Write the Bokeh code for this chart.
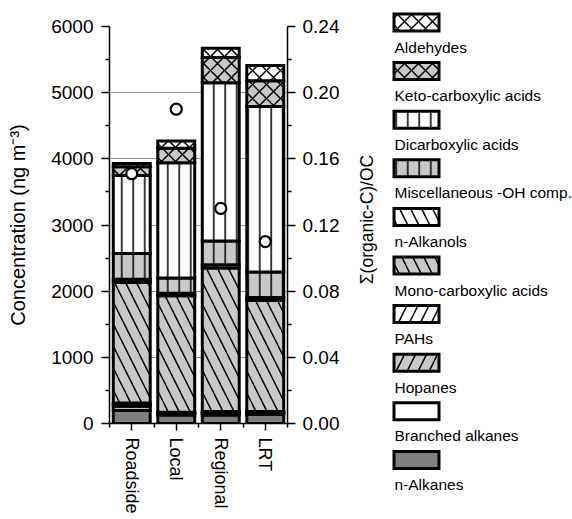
import numpy as np
from bokeh.plotting import figure
from bokeh.models import ColumnDataSource, Range1d, LinearAxis, FixedTicker, NumeralTickFormatter
from bokeh.layouts import row
from bokeh.embed import file_html
from bokeh.resources import INLINE
from bokeh.core.properties import value

# ---------------- data ----------------
categories = ["Roadside", "Local", "Regional", "LRT"]
n_alkanes = [200, 130, 130, 140]
branched_alkanes = [60, 20, 20, 20]
hopanes = [30, 10, 15, 10]
pahs = [20, 10, 15, 10]
mono_carboxylic = [1820, 1760, 2170, 1680]
n_alkanols = [50, 40, 50, 45]
misc_oh = [390, 230, 360, 385]
dicarboxylic = [1180, 1740, 2390, 2500]
keto_carboxylic = [130, 220, 380, 390]
aldehydes = [50, 110, 140, 230]
ratio_oc = [0.151, 0.190, 0.130, 0.110]

conc_ticks = [0, 1000, 2000, 3000, 4000, 5000, 6000]
ratio_ticks = [0.00, 0.04, 0.08, 0.12, 0.16, 0.20, 0.24]

series_names = ["n-Alkanes", "Branched alkanes", "Hopanes", "PAHs",
                "Mono-carboxylic acids", "n-Alkanols", "Miscellaneous -OH comp.",
                "Dicarboxylic acids", "Keto-carboxylic acids", "Aldehydes"]
series_values = [n_alkanes, branched_alkanes, hopanes, pahs, mono_carboxylic,
                 n_alkanols, misc_oh, dicarboxylic, keto_carboxylic, aldehydes]

# ---------------- styles ----------------
FONT = "Liberation Sans"
GREY = "#c8c8c8"
DARK = "#808080"
WHITE = "#ffffff"
fills = [DARK, WHITE, GREY, WHITE, GREY, WHITE, GREY, WHITE, GREY, WHITE]
hatches = [None, None, "/", "/", "\\", "\\", "|", "|", "x", "x"]
hscale = {"/": 22, "\\": 22, "|": 11.5, "x": 14}


def hatch_kw(hp):
    if hp is None:
        return {}
    return dict(hatch_pattern=hp, hatch_color="black", hatch_weight=1.5, hatch_scale=hscale[hp])


n = len(categories)
xpos = np.arange(n) + 0.5

p = figure(width=355, height=519, x_range=Range1d(0, n), y_range=Range1d(0, conc_ticks[-1]),
           output_backend="svg", toolbar_location=None,
           min_border_left=109, min_border_right=68, min_border_top=26, min_border_bottom=96)
p.outline_line_color = None
p.background_fill_color = "white"
p.border_fill_color = "white"

p.xgrid.visible = False
p.ygrid.ticker = FixedTicker(ticks=conc_ticks[1:-1])
p.ygrid.grid_line_color = "#9a9a9a"
p.ygrid.grid_line_width = 1

# stacked bars
bottom = np.zeros(n)
for name, vals, fc, hp in zip(series_names, series_values, fills, hatches):
    vals = np.array(vals, dtype=float)
    src = ColumnDataSource(dict(x=xpos, bottom=bottom.copy(), top=bottom + vals))
    p.vbar(x="x", bottom="bottom", top="top", width=0.83, source=src,
           fill_color=fc, line_color="black", line_width=3, line_join="miter", **hatch_kw(hp))
    bottom = bottom + vals

# ratio markers on secondary axis
p.extra_y_ranges = {"ratio": Range1d(0, ratio_ticks[-1])}
p.scatter(xpos, ratio_oc, y_range_name="ratio", size=11, marker="circle",
          fill_color="white", line_color="black", line_width=2.2)


# axes styling
def style_axis(ax):
    ax.axis_line_color = "black"
    ax.axis_line_width = 1.5
    ax.major_tick_line_color = "black"
    ax.minor_tick_line_color = "black"
    ax.major_tick_line_width = 1.5
    ax.minor_tick_line_width = 1.5
    ax.major_tick_in = 0
    ax.minor_tick_in = 0
    ax.major_label_text_color = "black"
    ax.major_label_text_font = FONT
    ax.axis_label_text_font = FONT
    ax.axis_label_text_font_style = "normal"
    ax.axis_label_text_color = "black"


yax = p.yaxis[0]
style_axis(yax)
yax.ticker = FixedTicker(ticks=conc_ticks,
                         minor_ticks=[t + 500 for t in conc_ticks[:-1]])
yax.major_tick_out = 8
yax.minor_tick_out = 4
yax.major_label_text_font_size = "19px"
yax.major_label_standoff = 8
yax.axis_label = "Concentration (ng m\u207b\u00b3)"
yax.axis_label_text_font_size = "20px"
yax.axis_label_standoff = 19

rax = LinearAxis(y_range_name="ratio")
style_axis(rax)
rax.ticker = FixedTicker(ticks=ratio_ticks,
                         minor_ticks=[t + 0.02 for t in ratio_ticks[:-1]])
rax.formatter = NumeralTickFormatter(format="0.00")
rax.major_tick_out = 8
rax.minor_tick_out = 4
rax.major_label_text_font_size = "19px"
rax.major_label_standoff = 7
p.add_layout(rax, "right")

xax = p.xaxis[0]
style_axis(xax)
xax.ticker = FixedTicker(ticks=list(xpos), minor_ticks=list(range(n + 1)))
xax.major_label_overrides = {float(x): c for x, c in zip(xpos, categories)}
xax.major_label_orientation = "vertical"
xax.major_tick_out = 7
xax.minor_tick_out = 4
xax.major_label_text_font_size = "18px"
xax.major_label_standoff = 7

# ---------------- legend panel ----------------
LW, LH = 217, 519
q = figure(width=LW, height=LH, x_range=Range1d(0, LW), y_range=Range1d(0, LH),
           output_backend="svg", toolbar_location=None, min_border=0,
           x_axis_location=None, y_axis_location=None)
q.outline_line_color = None
q.grid.visible = False
q.background_fill_color = "white"
q.border_fill_color = "white"
for fig in (p, q):
    try:
        fig.frame_align = False
    except Exception:
        pass

step = 48.6
for i, (name, fc, hp) in enumerate(zip(series_names[::-1], fills[::-1], hatches[::-1])):
    py = 22 + step * i
    q.rect(x=[61], y=[LH - py], width=45, height=17, fill_color=fc,
           line_color="black", line_width=3, line_join="miter", **hatch_kw(hp))
    q.text(x=[39], y=[LH - (py + 24.5)], text=[name], text_font=value(FONT),
           text_font_size="15.5px", text_color="black",
           text_align="left", text_baseline="middle")

q.text(x=[11], y=[LH - 219], text=["\u03a3(organic-C)/OC"], angle=np.pi / 2,
       text_font=value(FONT), text_font_size="17.5px", text_color="black",
       text_align="center", text_baseline="middle")

layout = row(p, q)
open("out.html", "w").write(file_html(layout, INLINE))
